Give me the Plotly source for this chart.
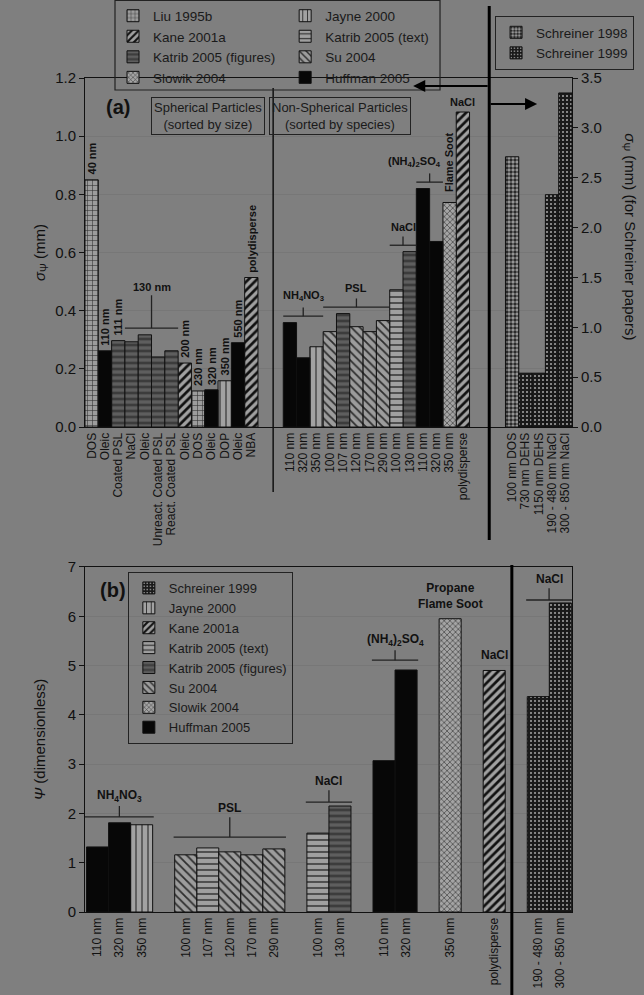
import plotly.graph_objects as go

FONT = "Arial, Liberation Sans, sans-serif"

# ---------------- DATA ----------------
# Panel (a) – spherical particles (sorted by size)
a_sph_labels = ["DOS", "Oleic", "Coated PSL", "NaCl", "Oleic", "Unreact. Coated PSL",
                "React. Coated PSL", "Oleic", "DOS", "Oleic", "DOP", "Oleic", "NBA"]
a_sph_values = [0.85, 0.262, 0.297, 0.293, 0.317, 0.241, 0.262, 0.22, 0.124, 0.128, 0.159, 0.29, 0.514]
a_sph_study = ["Liu 1995b", "Huffman 2005", "Katrib 2005 (figures)", "Katrib 2005 (figures)",
               "Katrib 2005 (figures)", "Katrib 2005 (figures)", "Katrib 2005 (figures)",
               "Kane 2001a", "Liu 1995b", "Huffman 2005", "Jayne 2000", "Huffman 2005", "Kane 2001a"]
a_sph_size = ["40 nm", "110 nm", "111 nm", "", "", "", "", "200 nm", "230 nm", "320 nm",
              "350 nm", "550 nm", "polydisperse"]
a_sph_bracket = ("130 nm", 3, 6)

# Panel (a) – non-spherical particles (sorted by species)
a_non_labels = ["110 nm", "320 nm", "350 nm", "100 nm", "107 nm", "120 nm", "170 nm", "290 nm",
                "100 nm", "130 nm", "110 nm", "320 nm", "350 nm", "polydisperse"]
a_non_values = [0.359, 0.238, 0.276, 0.328, 0.39, 0.345, 0.328, 0.366, 0.472, 0.603, 0.82,
                0.638, 0.772, 1.083]
a_non_study = ["Huffman 2005", "Huffman 2005", "Jayne 2000", "Su 2004", "Katrib 2005 (figures)",
               "Su 2004", "Su 2004", "Su 2004", "Katrib 2005 (text)", "Katrib 2005 (figures)",
               "Huffman 2005", "Huffman 2005", "Slowik 2004", "Kane 2001a"]
a_non_groups = [("NH<sub>4</sub>NO<sub>3</sub>", 0, 2), ("PSL", 3, 7), ("NaCl", 8, 9),
                ("(NH<sub>4</sub>)<sub>2</sub>SO<sub>4</sub>", 10, 11)]

# Panel (a) – Schreiner papers (right axis)
a_sch_labels = ["100 nm DOS", "730 nm DEHS", "1150 nm DEHS", "190 - 480 nm NaCl", "300 - 850 nm NaCl"]
a_sch_values = [2.71, 0.54, 0.54, 2.33, 3.35]
a_sch_study = ["Schreiner 1998", "Schreiner 1999", "Schreiner 1999", "Schreiner 1999", "Schreiner 1999"]

# Panel (b)
b_labels = ["110 nm", "320 nm", "350 nm", "100 nm", "107 nm", "120 nm", "170 nm", "290 nm",
            "100 nm", "130 nm", "110 nm", "320 nm", "350 nm", "polydisperse",
            "190 - 480 nm", "300 - 850 nm"]
b_values = [1.32, 1.81, 1.77, 1.16, 1.30, 1.22, 1.16, 1.28, 1.60, 2.15, 3.07, 4.91, 5.95, 4.90,
            4.37, 6.27]
b_study = ["Huffman 2005", "Huffman 2005", "Jayne 2000", "Su 2004", "Katrib 2005 (text)", "Su 2004",
           "Su 2004", "Su 2004", "Katrib 2005 (text)", "Katrib 2005 (figures)", "Huffman 2005",
           "Huffman 2005", "Slowik 2004", "Kane 2001a", "Schreiner 1999", "Schreiner 1999"]
b_groups = [("NH<sub>4</sub>NO<sub>3</sub>", 3), ("PSL", 5), ("NaCl", 2),
            ("(NH<sub>4</sub>)<sub>2</sub>SO<sub>4</sub>", 2), ("Propane<br>Flame Soot", 1),
            ("NaCl", 1), ("NaCl", 2)]

# ---------------- STYLE / LAYOUT CONSTANTS ----------------
BG = "#7f7f7f"
INK = "#111111"
STYLE = {
    "Liu 1995b": dict(shape="+", bg="#9c9c9c", fg="#2a2a2a", size=5, sol=0.2),
    "Jayne 2000": dict(shape="|", bg="#a2a2a2", fg="#333333", size=6, sol=0.2),
    "Kane 2001a": dict(shape="/", bg="#a0a0a0", fg="#111111", size=6, sol=0.45),
    "Katrib 2005 (text)": dict(shape="-", bg="#a0a0a0", fg="#333333", size=6, sol=0.25),
    "Katrib 2005 (figures)": dict(shape="-", bg="#5e5e5e", fg="#3c3c3c", size=6, sol=0.45),
    "Su 2004": dict(shape="\\", bg="#9c9c9c", fg="#2e2e2e", size=6, sol=0.3),
    "Slowik 2004": dict(shape="x", bg="#a4a4a4", fg="#3a3a3a", size=4, sol=0.3),
    "Huffman 2005": dict(shape="", bg="#070707", fg="#070707", size=6, sol=0.3),
    "Schreiner 1998": dict(shape=".", bg="#a0a0a0", fg="#2a2a2a", size=4, sol=0.6),
    "Schreiner 1999": dict(shape=".", bg="#1a1a1a", fg="#a8a8a8", size=4, sol=0.2),
}
LEG_A1 = ["Liu 1995b", "Kane 2001a", "Katrib 2005 (figures)", "Slowik 2004"]
LEG_A2 = ["Jayne 2000", "Katrib 2005 (text)", "Su 2004", "Huffman 2005"]
LEG_A3 = ["Schreiner 1998", "Schreiner 1999"]
LEG_B = ["Schreiner 1999", "Jayne 2000", "Kane 2001a", "Katrib 2005 (text)",
         "Katrib 2005 (figures)", "Su 2004", "Slowik 2004", "Huffman 2005"]

A_STARTS = [0.0, 14.9, 31.6]          # slot offsets of the three groups in panel (a)
A_RANGE = [0, 36.6]
B_GAP = 1                              # empty slots between groups in panel (b)
B_OFF = 0.57
B_RANGE = [0, 22.1]

a_sph_x = [A_STARTS[0] + i + 0.5 for i in range(len(a_sph_values))]
a_non_x = [A_STARTS[1] + i + 0.5 for i in range(len(a_non_values))]
a_sch_x = [A_STARTS[2] + i + 0.5 for i in range(len(a_sch_values))]

b_x = []
slot = 0
b_group_idx = []
for gi, (name, n) in enumerate(b_groups):
    idx = []
    for k in range(n):
        idx.append(len(b_x))
        b_x.append(slot + k + B_OFF)
    b_group_idx.append(idx)
    slot += n + B_GAP

fig = go.Figure()


def add_bars(study, xs, ys, xaxis, yaxis, legend, show=True):
    s = STYLE[study]
    fig.add_trace(go.Bar(
        x=xs, y=ys, name=study, width=1, xaxis=xaxis, yaxis=yaxis, legend=legend,
        showlegend=show,
        marker=dict(color=s["bg"], line=dict(color=INK, width=1),
                    pattern=dict(shape=s["shape"], fgcolor=s["fg"], bgcolor=s["bg"],
                                 size=s["size"], solidity=s["sol"], fillmode="replace")),
    ))


# panel (a) left-axis traces
for leg, names in (("legend", LEG_A1), ("legend2", LEG_A2)):
    for st in names:
        xs = [x for x, s in zip(a_sph_x, a_sph_study) if s == st] + \
             [x for x, s in zip(a_non_x, a_non_study) if s == st]
        ys = [v for v, s in zip(a_sph_values, a_sph_study) if s == st] + \
             [v for v, s in zip(a_non_values, a_non_study) if s == st]
        add_bars(st, xs, ys, "x", "y", leg)
for st in LEG_A3:
    xs = [x for x, s in zip(a_sch_x, a_sch_study) if s == st]
    ys = [v for v, s in zip(a_sch_values, a_sch_study) if s == st]
    add_bars(st, xs, ys, "x", "y2", "legend3")
# panel (b)
for st in LEG_B:
    xs = [x for x, s in zip(b_x, b_study) if s == st]
    ys = [v for v, s in zip(b_values, b_study) if s == st]
    add_bars(st, xs, ys, "x2", "y3", "legend4")

ann = []
shapes = []
A_FONT = dict(family=FONT, size=11, color=INK)
B_FONT = dict(family=FONT, size=12, color=INK)

# rotated size labels in (a)
for x, v, t in zip(a_sph_x, a_sph_values, a_sph_size):
    if t:
        ann.append(dict(x=x, y=v, xref="x", yref="y", text="<b>%s</b>" % t, textangle=-90,
                        showarrow=False, xanchor="center", yanchor="bottom", yshift=3, font=A_FONT))


def bracket(xref, yref, xl, xr, yb, stem, label, font, text_gap, xshift=0):
    xc = (xl + xr) / 2
    shapes.append(dict(type="line", xref=xref, yref=yref, x0=xl, x1=xr, y0=yb, y1=yb,
                       line=dict(color="#222", width=1.3)))
    shapes.append(dict(type="line", xref=xref, yref=yref, x0=xc, x1=xc, y0=yb, y1=yb + stem,
                       line=dict(color="#222", width=1.3)))
    ann.append(dict(x=xc, y=yb + stem, xref=xref, yref=yref, text="<b>%s</b>" % label,
                    showarrow=False, xanchor="center", yanchor="bottom", yshift=text_gap,
                    xshift=xshift, font=font))


# 130 nm bracket
lbl, i0, i1 = a_sph_bracket
ymax = max(a_sph_values[i0:i1 + 1])
bracket("x", "y", a_sph_x[i0] - 0.5, a_sph_x[i1] + 0.5, ymax + 0.023, 0.113, lbl, A_FONT, 0)
# non-spherical brackets
for gi, (lbl, i0, i1) in enumerate(a_non_groups):
    ymax = max(a_non_values[i0:i1 + 1])
    bracket("x", "y", a_non_x[i0] - 0.5, a_non_x[i1] + 0.5, ymax + 0.022, 0.03, lbl, A_FONT, 2,
            xshift=(-15 if gi == 3 else 0))
ann.append(dict(x=a_non_x[12], y=a_non_values[12], xref="x", yref="y", text="<b>Flame Soot</b>",
                textangle=-90, showarrow=False, xanchor="center", yanchor="bottom", yshift=8,
                font=A_FONT))
ann.append(dict(x=a_non_x[13], y=a_non_values[13], xref="x", yref="y", text="<b>NaCl</b>",
                showarrow=False, xanchor="center", yanchor="bottom", yshift=2, font=A_FONT))

# panel (b) group labels
B_BR = {0: (0.12, 0.22), 1: (0.22, 0.40), 2: (0.08, 0.24), 3: (0.2, 0.2), 6: (0.06, 0.24)}
for gi, (name, n) in enumerate(b_groups):
    idx = b_group_idx[gi]
    ymax = max(b_values[i] for i in idx)
    if gi in B_BR:
        off, stem = B_BR[gi]
        xl = b_x[idx[0]] - 0.5 - (0.15 if gi == 0 else 0.05)
        xr = b_x[idx[-1]] + 0.5 + 0.05
        bracket("x2", "y3", max(xl, 0), min(xr, B_RANGE[1]), ymax + off, stem, name, B_FONT, 0)
    else:
        ann.append(dict(x=b_x[idx[0]], y=ymax, xref="x2", yref="y3", text="<b>%s</b>" % name,
                        showarrow=False, xanchor="center", yanchor="bottom", yshift=6, font=B_FONT))

# panel titles / boxes
ann.append(dict(x=0.0678, y=0.965, xref="paper", yref="paper", text="<b>(a)</b>", showarrow=False,
                xanchor="center", yanchor="middle", font=dict(family=FONT, size=20, color=INK)))
ann.append(dict(x=0.0575, y=0.386, xref="paper", yref="paper", text="<b>(b)</b>", showarrow=False,
                xanchor="center", yanchor="middle", font=dict(family=FONT, size=20, color=INK)))
for xc, txt in ((0.2526, "Spherical Particles<br>(sorted by size)"),
                (0.5236, "Non-Spherical Particles<br>(sorted by species)")):
    ann.append(dict(x=xc, y=0.954, xref="paper", yref="paper", text=txt, showarrow=False,
                    xanchor="center", yanchor="middle",
                    bordercolor="#222", borderwidth=1, borderpad=2,
                    font=dict(family=FONT, size=13, color="#1a1a1a")))
# right axis title
ann.append(dict(x=1.119, y=0.809, xref="paper", yref="paper",
                text="<i>σ</i><sub>Ψ</sub> (mm) (for Schreiner papers)", textangle=90,
                xanchor="center", yanchor="middle",
                showarrow=False, font=dict(family=FONT, size=15, color=INK)))
# arrows
ann.append(dict(x=24.66, y=0.9904, xref="x", yref="paper", ax=76, ay=0, text="", showarrow=True,
                arrowhead=2, arrowsize=1.1, arrowwidth=2.2, arrowcolor="#000"))
ann.append(dict(x=33.98, y=0.9688, xref="x", yref="paper", ax=-48, ay=0, text="", showarrow=True,
                arrowhead=2, arrowsize=1.1, arrowwidth=2.2, arrowcolor="#000"))

# divider lines
shapes.append(dict(type="line", xref="x", yref="paper", x0=14.14, x1=14.14, y0=0.5036, y1=0.988,
                   line=dict(color="#111", width=1.5)))
shapes.append(dict(type="line", xref="x", yref="paper", x0=30.38, x1=30.38, y0=0.446, y1=1.0863,
                   line=dict(color="#000", width=3)))
shapes.append(dict(type="line", xref="x2", yref="paper", x0=19.37, x1=19.37, y0=-0.1, y1=0.416,
                   line=dict(color="#000", width=3)))
# box round top legend
shapes.append(dict(type="rect", xref="paper", yref="paper", x0=0.0616, x1=0.729, y0=0.9856,
                   y1=1.093, line=dict(color="#222", width=1.2)))

axis_common = dict(showline=True, linecolor=INK, linewidth=1, mirror=True,
                   tickfont=dict(family=FONT, size=15, color=INK), ticks="outside", ticklen=5,
                   tickcolor=INK, zeroline=False, automargin=False)
xaxis_common = dict(tickangle=-90, showline=True, linecolor=INK, linewidth=1, mirror=True,
                    ticks="", showgrid=False, zeroline=False, automargin=False,
                    tickfont=dict(family=FONT, size=12, color=INK))
leg_font = dict(family=FONT, size=13.5, color="#1a1a1a")
fig.update_layout(
    template="none",
    width=644, height=995, paper_bgcolor=BG, plot_bgcolor=BG,
    margin=dict(l=85, r=72, t=78, b=83, autoexpand=False),
    barmode="overlay", font=dict(family=FONT, color=INK),
    xaxis=dict(domain=[0, 1], anchor="y", range=A_RANGE, tickvals=a_sph_x + a_non_x + a_sch_x,
               ticktext=a_sph_labels + a_non_labels + a_sch_labels, **xaxis_common),
    yaxis=dict(domain=[0.5815, 1], anchor="x", range=[0, 1.2], dtick=0.2, tickformat=".1f",
               title=dict(text="<i>σ</i><sub>Ψ</sub> (mm)", font=dict(family=FONT, size=15)),
               showgrid=True, gridcolor="#777777", **axis_common),
    yaxis2=dict(overlaying="y", side="right", anchor="x", range=[0, 3.5], dtick=0.5,
                tickformat=".1f", showgrid=False, showline=True, linecolor=INK,
                tickfont=dict(family=FONT, size=15, color=INK), ticks="outside", ticklen=5,
                tickcolor=INK, zeroline=False, automargin=False),
    xaxis2=dict(domain=[0, 1], anchor="y3", range=B_RANGE, tickvals=b_x, ticktext=b_labels,
                **xaxis_common),
    yaxis3=dict(domain=[0, 0.4137], anchor="x2", range=[0, 7], dtick=1,
                title=dict(text="<i>Ψ</i> (dimensionless)", font=dict(family=FONT, size=15)),
                showgrid=True, gridcolor="#777777", **axis_common),
    legend=dict(x=0.0575, y=1.093, xanchor="left", yanchor="top", bgcolor="rgba(0,0,0,0)",
                font=leg_font),
    legend2=dict(x=0.411, y=1.093, xanchor="left", yanchor="top", bgcolor="rgba(0,0,0,0)",
                 font=leg_font),
    legend3=dict(x=0.842, y=1.0743, xanchor="left", yanchor="top", bgcolor="rgba(0,0,0,0)",
                 bordercolor="#222", borderwidth=1, font=leg_font),
    legend4=dict(x=0.088, y=0.4077, xanchor="left", yanchor="top", bgcolor="rgba(0,0,0,0)",
                 bordercolor="#222", borderwidth=1, font=dict(family=FONT, size=13, color="#1a1a1a")),
    annotations=ann, shapes=shapes,
)

fig.write_html("out.html")
